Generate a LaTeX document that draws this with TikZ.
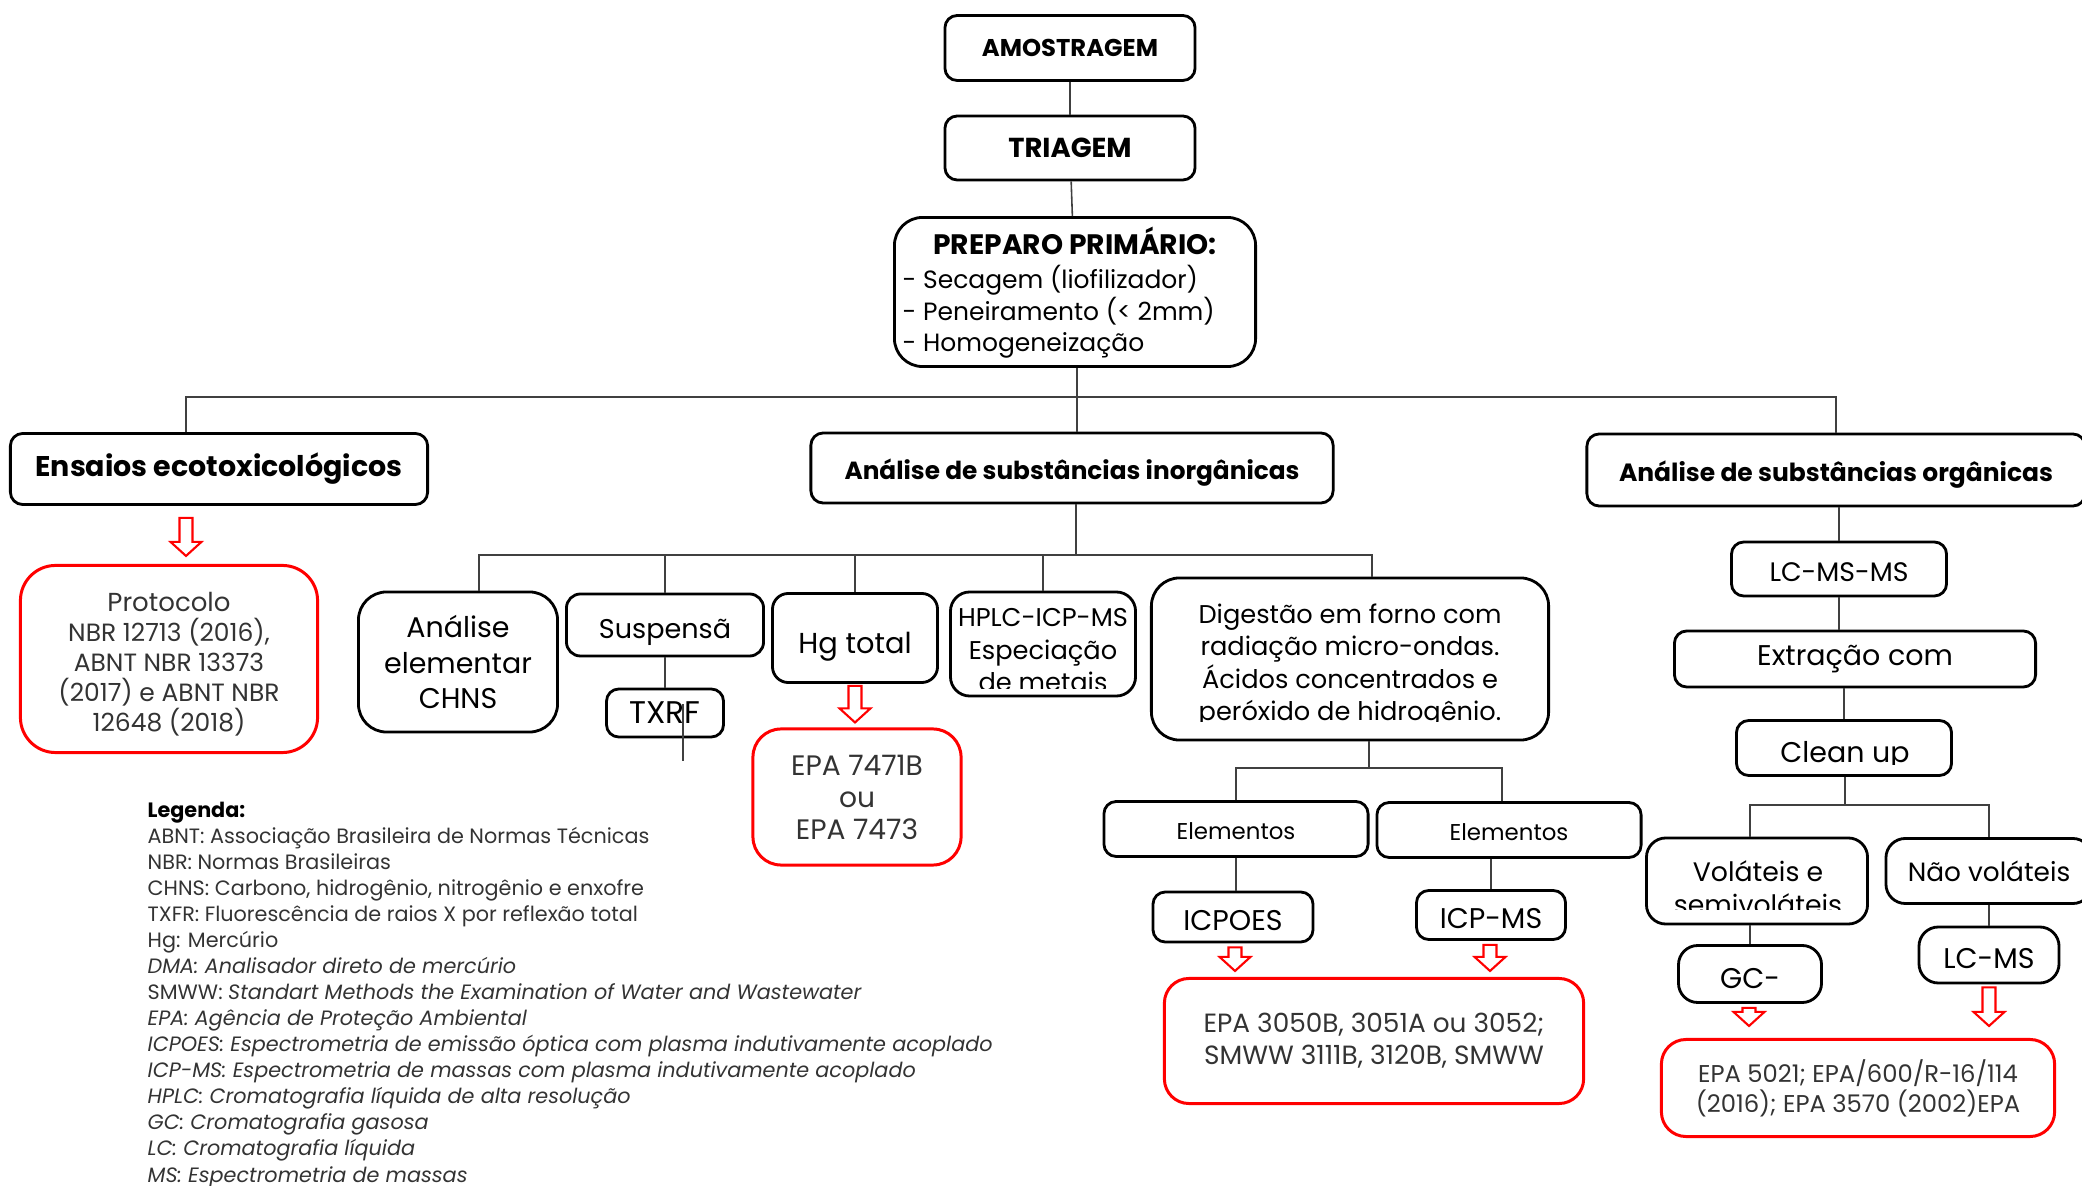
\documentclass[tikz,border=0pt]{standalone}
\usepackage{fontspec}
\setmainfont{Poppins}
\usetikzlibrary{calc}
\definecolor{linecol}{HTML}{404040}
\definecolor{txtgray}{HTML}{333333}
\newcommand\fs[2]{\fontsize{#1pt}{#2pt}\selectfont}
\tikzset{
  box/.style={draw, line width=0.8pt, rounded corners=3.5pt, align=center, inner sep=0pt},
  midbox/.style={box, rounded corners=5.5pt},
  bigbox/.style={box, rounded corners=8pt},
  redbox/.style={draw=red, line width=0.85pt, rounded corners=7pt, align=center, inner sep=0pt, text=txtgray},
  capfix/.style={text height=#1, text depth=0pt},
  txt/.style={inner sep=0pt, align=center},
  link/.style={draw=linecol, line width=0.45pt},
  blockarrow/.style={draw=red, line width=0.6pt, fill=white,
    to path={let \p1=(\tikztostart), \p2=(\tikztotarget) in
      (\x1-1.85pt,\y1) -- (\x1-1.85pt,\y2+4pt) -- (\x1-4.4pt,\y2+4pt) -- (\x1,\y2)
      -- (\x1+4.4pt,\y2+4pt) -- (\x1+1.85pt,\y2+4pt) -- (\x1+1.85pt,\y1) -- cycle}}
}
\begin{document}
\begin{tikzpicture}[x=0.01cm, y=-0.01cm]
\useasboundingbox (0,0) rectangle (2082,1186);

% topo
\node[box, font=\bfseries\fs{6.9}{8}, minimum width=2.50cm, minimum height=0.65cm] (amostragem) at (1070,48) {AMOSTRAGEM};
\node[box, font=\bfseries\fs{7.8}{8}, minimum width=2.50cm, minimum height=0.64cm] (triagem) at (1070,148) {TRIAGEM};
\node[bigbox, minimum width=3.61cm, minimum height=1.49cm] (preparo) at (1075,292) {};
\begin{scope}
  \clip (preparo.north west) rectangle (1255,358);
  \node[txt, font=\bfseries\fs{8}{10}, anchor=base] (preparotit) at (1075,255) {PREPARO PRIMÁRIO:};
  \node[txt, font=\fs{7.1}{9}, anchor=base west] (preparo1) at (902,289) {- Secagem (liofilizador)};
  \node[txt, font=\fs{7.1}{9}, anchor=base west] (preparo2) at (902,321) {- Peneiramento (< 2mm)};
  \node[txt, font=\fs{7.1}{9}, anchor=base west] (preparo3) at (902,352) {- Homogeneização};
\end{scope}

% ramos principais
\node[box, font=\bfseries\fs{8.1}{9}, minimum width=4.17cm, minimum height=0.71cm] (ensaios) at (219,469) {Ensaios ecotoxicológicos};
\node[box, capfix=6.6pt, font=\bfseries\fs{7.05}{9}, minimum width=5.22cm, minimum height=0.70cm] (inorg) at (1072,468) {Análise de substâncias inorgânicas};
\node[box, capfix=6.6pt, font=\bfseries\fs{7.1}{9}, minimum width=4.98cm, minimum height=0.72cm] (org) at (1836,470) {Análise de substâncias orgânicas};

% ecotoxicologia
\node[redbox, rounded corners=10pt, font=\fs{7.1}{8.5}, minimum width=2.97cm, minimum height=1.87cm] (protocolo) at (169,659)
  {\rule{0pt}{8.3pt}{\fs{7.4}{8.5}Protocolo}\\NBR 12713 (2016),\\ABNT NBR 13373\\(2017) e ABNT NBR\\12648 (2018)};

% inorganicos
\node[bigbox, font=\fs{8.1}{10.2}, minimum width=1.99cm, minimum height=1.40cm] (elementar) at (458,662) {Análise\\elementar\\CHNS};
\node[box, capfix=7.6pt, rounded corners=4pt, font=\fs{7.7}{10}, minimum width=1.97cm, minimum height=0.62cm] (susp) at (665,625) {Suspensã};
\node[box, font=\fs{8.9}{10}, minimum width=1.17cm, minimum height=0.48cm] (txrf) at (665,713) {TXRF};
\node[box, capfix=8.7pt, rounded corners=4.5pt, font=\fs{8.2}{10}, minimum width=1.65cm, minimum height=0.89cm] (hgtotal) at (855,638) {Hg total};
\node[redbox, rounded corners=8pt, font=\fs{8}{9.1}, minimum width=2.08cm, minimum height=1.36cm] (epa7471) at (857,797) {EPA 7471B\\ou\\EPA 7473};
\node[midbox, minimum width=1.85cm, minimum height=1.04cm] (hplc) at (1043,644) {};
\begin{scope}
  \clip (hplc.north west) rectangle (1135,689);
  \node[txt, font=\fs{7.3}{9.3}, anchor=base] (hplctxt) at (1043,692) {HPLC-ICP-MS\\Especiação\\de metais};
\end{scope}
\node[bigbox, minimum width=3.97cm, minimum height=1.62cm] (digestao) at (1350,659) {};
\begin{scope}
  \clip (digestao.north west) rectangle (1548,722);
  \node[txt, font=\fs{7.3}{9.25}, anchor=base] (digtxt) at (1350,721) {Digestão em forno com\\radiação micro-ondas.\\Ácidos concentrados e\\peróxido de hidrogênio.};
\end{scope}
\node[box, capfix=6.05pt, font=\fs{6.5}{8}, minimum width=2.64cm, minimum height=0.55cm] (elem1) at (1236,829) {Elementos};
\node[box, capfix=6.05pt, font=\fs{6.5}{8}, minimum width=2.64cm, minimum height=0.55cm] (elem2) at (1509,830) {Elementos};
\node[box, capfix=7.9pt, font=\fs{8.1}{9}, minimum width=1.60cm, minimum height=0.50cm] (icpoes) at (1233,917) {ICPOES};
\node[box, capfix=7.9pt, font=\fs{8.1}{9}, minimum width=1.49cm, minimum height=0.49cm] (icpms) at (1491,915) {ICP-MS};
\node[redbox, font=\fs{7.5}{9.1}, minimum width=4.19cm, minimum height=1.25cm] (epa3050) at (1374,1041) {EPA 3050B, 3051A ou 3052;\\SMWW 3111B, 3120B, SMWW};

% organicos
\node[box, capfix=7pt, font=\fs{7.6}{10}, minimum width=2.15cm, minimum height=0.54cm] (lcmsms) at (1839,569) {LC-MS-MS};
\node[box, font=\fs{8.1}{9}, minimum width=3.61cm, minimum height=0.56cm] (extracao) at (1855,659) {Extração com};
\node[box, minimum width=2.15cm, minimum height=0.55cm] (cleanup) at (1844,748) {};
\begin{scope}
  \clip (cleanup.north west) rectangle (1952,765);
  \node[txt, font=\fs{8.1}{9}, anchor=base] (cleantxt) at (1845,763) {Clean up};
\end{scope}
\node[midbox, minimum width=2.21cm, minimum height=0.86cm] (volateis) at (1757,881) {};
\begin{scope}
  \clip (volateis.north west) rectangle (1868,910);
  \node[txt, font=\fs{7.6}{9.4}, anchor=base] (voltxt) at (1758,915) {Voláteis e\\semivoláteis};
\end{scope}
\node[midbox, font=\fs{7.5}{9}, minimum width=2.06cm, minimum height=0.65cm] (naovol) at (1989,871) {Não voláteis};
\node[midbox, capfix=8.5pt, font=\fs{8.1}{9}, minimum width=1.43cm, minimum height=0.57cm] (gc) at (1750,974) {GC-};
\node[midbox, capfix=7.9pt, font=\fs{8.1}{9}, minimum width=1.40cm, minimum height=0.56cm] (lcms) at (1989,955) {LC-MS};
\node[redbox, font=\fs{6.9}{8.5}, minimum width=3.93cm, minimum height=0.97cm] (epa5021) at (1858,1088) {EPA 5021; EPA/600/R-16/114\\(2016); EPA 3570 (2002)EPA};

% legenda
\node[txt, align=left, font=\fs{5.9}{7.4}, text=txtgray, anchor=base west] (legenda) at (147,1182)
  {\textcolor{black}{\textbf{Legenda:}}\\
   ABNT: Associação Brasileira de Normas Técnicas\\
   NBR: Normas Brasileiras\\
   CHNS: Carbono, hidrogênio, nitrogênio e enxofre\\
   TXFR: Fluorescência de raios X por reflexão total\\
   Hg: Mercúrio\\
   \textit{DMA: Analisador direto de mercúrio}\\
   SMWW: \textit{Standart Methods the Examination of Water and Wastewater}\\
   \textit{EPA: Agência de Proteção Ambiental}\\
   \textit{ICPOES: Espectrometria de emissão óptica com plasma indutivamente acoplado}\\
   \textit{ICP-MS: Espectrometria de massas com plasma indutivamente acoplado}\\
   \textit{HPLC: Cromatografia líquida de alta resolução}\\
   \textit{GC: Cromatografia gasosa}\\
   \textit{LC: Cromatografia líquida}\\
   \textit{MS: Espectrometria de massas}};

% ligacoes
\coordinate (bus) at (1077,397);
\coordinate (ibus) at (1076,555);
\coordinate (dbus) at (1369,768);
\coordinate (obus) at (1845,805);
\draw[link] (amostragem) -- (triagem);
\draw[link] (triagem) -- (preparo);
\draw[link] (preparo.south -| bus) -- (bus);
\draw[link] ($(ensaios.north)+(-33,0)$) |- (bus) -| (org.north);
\draw[link] (bus) -- (bus |- inorg.north);
\draw[link] (inorg.south -| ibus) -- (ibus);
\draw[link] ($(elementar.north)+(21,0)$) |- (ibus) -| ($(digestao.north)+(22,0)$);
\draw[link] (susp.north) -- (susp.north |- ibus);
\draw[link] (hgtotal.north) -- (hgtotal.north |- ibus);
\draw[link] (hplc.north) -- (hplc.north |- ibus);
\draw[link] (susp) -- (txrf);
\draw[link] ($(txrf.center)+(18,-9)$) -- ++(0,57);
\draw[link] ($(digestao.south)+(19,0)$) -- (dbus);
\draw[link] (elem1.north) |- (dbus) -| ($(elem2.north)+(-7,0)$);
\draw[link] (elem1.south) -- (elem1.south |- icpoes.north);
\draw[link] (icpms.north) -- (icpms.north |- elem2.south);
\draw[link] (lcmsms.north) -- (lcmsms.north |- org.south);
\draw[link] (lcmsms.south) -- (lcmsms.south |- extracao.north);
\draw[link] (cleanup.north) -- (cleanup.north |- extracao.south);
\draw[link] (cleanup.south -| obus) -- (obus);
\draw[link] ($(volateis.north)+(-7,0)$) |- (obus) -| (naovol.north);
\draw[link] (gc.north) -- (gc.north |- volateis.south);
\draw[link] (lcms.north) -- (lcms.north |- naovol.south);

% setas vermelhas
\draw[blockarrow] ($(ensaios.south)+(-33,12)$) to ($(protocolo.north)+(0,-8)$);
\draw[blockarrow] ($(hgtotal.south)+(0,2)$) to ($(epa7471.north)+(0,-5)$);
\draw[blockarrow] ($(icpoes.south)+(2,4)$) to ($(epa3050.north)+(0,-6)$);
\draw[blockarrow] ($(icpms.south)+(-1,4)$) to ($(epa3050.north)+(0,-6)$);
\draw[blockarrow] ($(gc.south)+(-1,4)$) to ($(epa5021.north)+(0,-12)$);
\draw[blockarrow] ($(lcms.south)+(0,3)$) to ($(epa5021.north)+(0,-12)$);
\end{tikzpicture}
\end{document}
